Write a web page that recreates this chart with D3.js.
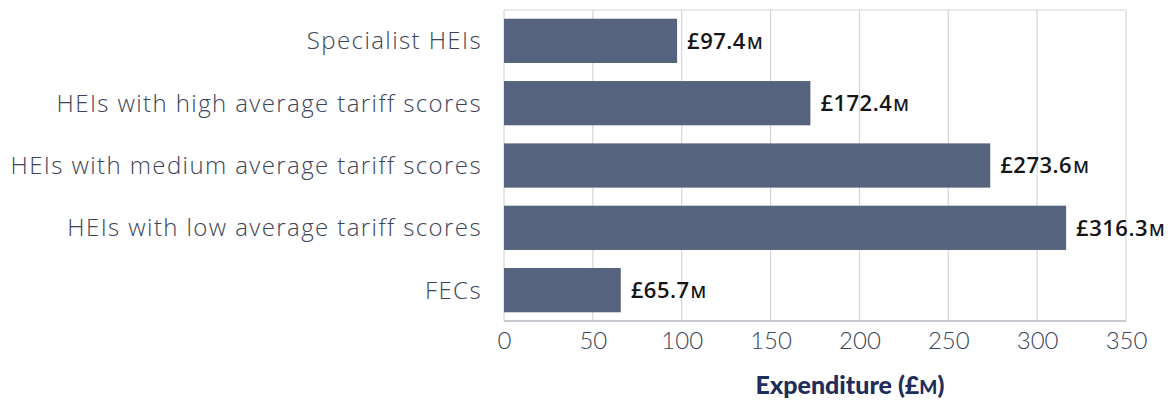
<!DOCTYPE html>
<html lang="en">
<head>
<meta charset="utf-8">
<title>Expenditure by provider type</title>
<script src="https://cdn.jsdelivr.net/npm/d3@7"></script>
<style>
  * { margin: 0; padding: 0; box-sizing: border-box; }
  body { background: #fff; width: 1176px; height: 408px; overflow: hidden; }
  svg { display: block; }
</style>
</head>
<body>
<svg id="chart" width="1176" height="408"></svg>
<script>
const categories = [
  "Specialist HEIs",
  "HEIs with high average tariff scores",
  "HEIs with medium average tariff scores",
  "HEIs with low average tariff scores",
  "FECs"
];
const values = [97.4, 172.4, 273.6, 316.3, 65.7];
const xTicks = [0, 50, 100, 150, 200, 250, 300, 350];
const axisTitle = "Expenditure (£";

const plotL = 504, plotR = 1126, plotT = 10, plotB = 321;

const svg = d3.select("#chart");

const x = d3.scaleLinear().domain([0, 350]).range([plotL, plotR]);
const y = d3.scaleBand().domain(categories).range([plotT, plotB])
  .paddingInner(0.29).paddingOuter(0.14);

// grid + frame
svg.append("g")
  .selectAll("line")
  .data(xTicks)
  .join("line")
  .attr("x1", d => x(d)).attr("x2", d => x(d))
  .attr("y1", plotT).attr("y2", plotB)
  .attr("stroke", "#d4d4dc")
  .attr("stroke-width", 1.2);

svg.append("line")
  .attr("x1", plotL).attr("x2", plotR)
  .attr("y1", plotT).attr("y2", plotT)
  .attr("stroke", "#d4d4dc").attr("stroke-width", 1.2);

svg.append("line")
  .attr("x1", plotL).attr("x2", plotR)
  .attr("y1", plotB).attr("y2", plotB)
  .attr("stroke", "#c9c9d2").attr("stroke-width", 2);

// bars
svg.append("g")
  .selectAll("rect")
  .data(values)
  .join("rect")
  .attr("x", x(0))
  .attr("y", (d, i) => y(categories[i]))
  .attr("width", d => x(d) - x(0))
  .attr("height", y.bandwidth())
  .attr("fill", "#56637e");

// value labels
const vl = svg.append("g")
  .selectAll("text")
  .data(values)
  .join("text")
  .attr("x", d => x(d) + 10)
  .attr("y", (d, i) => y(categories[i]) + y.bandwidth() / 2)
  .attr("dy", "0.36em")
  .attr("font-family", "'Open Sans', sans-serif")
  .attr("font-weight", 600)
  .attr("font-size", 22)
  .attr("letter-spacing", 0.5)
  .attr("fill", "#151515");
vl.append("tspan").text(d => "£" + d.toFixed(1));
vl.append("tspan").attr("font-size", 17).attr("dx", 1).text("M");

// category labels
svg.append("g")
  .selectAll("text")
  .data(categories)
  .join("text")
  .attr("x", plotL - 22)
  .attr("y", d => y(d) + y.bandwidth() / 2)
  .attr("dy", "0.36em")
  .attr("text-anchor", "end")
  .attr("font-family", "'Open Sans', sans-serif")
  .attr("font-weight", 300)
  .attr("font-size", 24)
  .attr("letter-spacing", 1.4)
  .attr("fill", "#3b4459")
  .text(d => d);

// x axis labels
const xAxis = d3.axisBottom(x).tickValues(xTicks).tickSize(0).tickPadding(0);
const ax = svg.append("g").attr("transform", `translate(0,${plotB + 28})`).call(xAxis);
ax.select(".domain").remove();
ax.selectAll("text")
  .attr("dy", 0)
  .attr("font-family", "Lato, sans-serif")
  .attr("font-weight", 300)
  .attr("font-size", 24)
  .attr("fill", "#3b4459");

// axis title
const t = svg.append("text")
  .attr("x", 850)
  .attr("y", 394)
  .attr("text-anchor", "middle")
  .attr("font-family", "Lato, sans-serif")
  .attr("font-weight", 900)
  .attr("font-size", 25)
  .attr("fill", "#1f2d5a");
t.append("tspan").text(axisTitle);
t.append("tspan").attr("font-size", 19).text("M");
t.append("tspan").text(")");
</script>
</body>
</html>
